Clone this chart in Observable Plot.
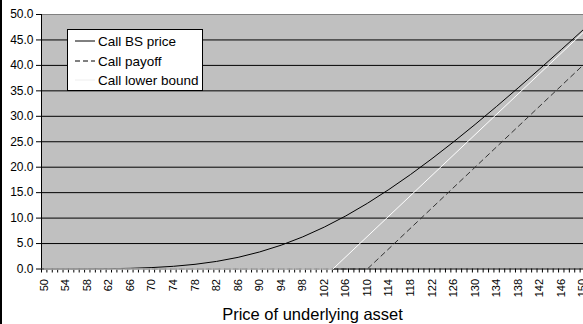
<!DOCTYPE html>
<html>
<head>
<meta charset="utf-8">
<script src="https://cdn.jsdelivr.net/npm/d3@7"></script>
<script src="https://cdn.jsdelivr.net/npm/@observablehq/plot@0.6"></script>
<style>
  html, body { margin: 0; padding: 0; background: #fff; }
  #wrap { position: relative; width: 583px; height: 324px; overflow: hidden; font-family: "Liberation Sans", Arial, sans-serif; }
  #edge { position: absolute; left: 0; top: 0; width: 2px; height: 324px; background: #000; }
  #legend { position: absolute; left: 67px; top: 29px; width: 134px; height: 60px; background: #fff; border: 1px solid #000; font-size: 13.5px; color: #000; }
  .row { position: absolute; left: 0; height: 18px; display: flex; align-items: center; }
  .row svg { margin-left: 7px; margin-right: 3px; }
</style>
</head>
<body>
<div id="wrap"><div id="chart"></div><div id="edge"></div>
<div id="legend">
  <div class="row" style="top:2px"><svg width="20" height="4"><line x1="0" y1="2" x2="20" y2="2" stroke="#000" stroke-width="1"/></svg><span>Call BS price</span></div>
  <div class="row" style="top:22px"><svg width="20" height="4"><line x1="0" y1="2" x2="20" y2="2" stroke="#000" stroke-width="1" stroke-dasharray="5,3"/></svg><span>Call payoff</span></div>
  <div class="row" style="top:41px"><svg width="20" height="4"><line x1="0" y1="2" x2="20" y2="2" stroke="#eee" stroke-width="1"/></svg><span>Call lower bound</span></div>
</div>
</div>
<script>
// Underlying price categories with Black-Scholes call price
const bsS = [50,54,58,62,66,70,74,78,82,86,90,94,98,102,106,110,114,118,122,126,130,134,138,142,146,150];
const bsV = [0.00,0.01,0.02,0.06,0.13,0.28,0.53,0.92,1.49,2.29,3.35,4.68,6.31,8.23,10.43,12.90,15.62,18.55,21.68,24.97,28.40,31.95,35.59,39.31,43.09,46.93];
// Call payoff (strike 110)
const payS = [50,110,150];
const payV = [0,0,40];
// Call lower bound (S - K e^{-rT})
const lbS = [50,103.6,150];
const lbV = [0,0,46.4];
// Axis ticks
const yTicks = [0,5,10,15,20,25,30,35,40,45,50];
const xLabelTicks = d3.range(50, 151, 4);
const xTickMarks = d3.range(49.5, 151, 1);
const xTitle = "Price of underlying asset";

const bs = bsS.map((s,i) => ({s, v: bsV[i]}));
const pay = payS.map((s,i) => ({s, v: payV[i]}));
const lb = lbS.map((s,i) => ({s, v: lbV[i]}));

const chart = Plot.plot({
  width: 583,
  height: 324,
  marginLeft: 41,
  marginRight: 0,
  marginTop: 14,
  marginBottom: 55.5,
  style: {fontFamily: "'Liberation Sans', Arial, sans-serif", background: "transparent", overflow: "hidden"},
  x: {domain: [49.5, 150.5], range: [41, 585]},
  y: {domain: [0, 50], range: [268.5, 14]},
  marks: [
    Plot.rect([{x1: 49.5, x2: 150.5, y1: 0, y2: 50}], {x1: "x1", x2: "x2", y1: "y1", y2: "y2", fill: "#c0c0c0"}),
    Plot.ruleY(yTicks.filter(d => d < 50), {stroke: "#000", strokeWidth: 1}),
    Plot.ruleY([50], {stroke: "#808080", strokeWidth: 1}),
    Plot.ruleX([49.5], {y1: 0, y2: 50, stroke: "#000", strokeWidth: 1}),
    Plot.axisY({ticks: yTicks, tickFormat: d => d.toFixed(1), tickSize: 5, tickPadding: 3, fontSize: 12, label: null, stroke: "#000", color: "#000"}),
    Plot.axisX({ticks: xTickMarks, tickFormat: () => "", tickSize: 4, label: null, stroke: "#000"}),
    Plot.axisX({ticks: xLabelTicks, tickSize: 0, tickPadding: 10, tickRotate: -90, fontSize: 11, label: null, color: "#000"}),
    Plot.line(bs, {x: "s", y: "v", stroke: "#000", strokeWidth: 1}),
    Plot.line(pay, {x: "s", y: "v", stroke: "#333", strokeWidth: 1, strokeDasharray: "5,4"}),
    Plot.line(lb, {x: "s", y: "v", stroke: "#fff", strokeWidth: 1}),
    Plot.text([xTitle], {frameAnchor: "bottom", lineAnchor: "middle", dy: 46, fontSize: 16.5, fill: "#000"})
  ]
});
document.getElementById("chart").appendChild(chart);
</script>
</body>
</html>
